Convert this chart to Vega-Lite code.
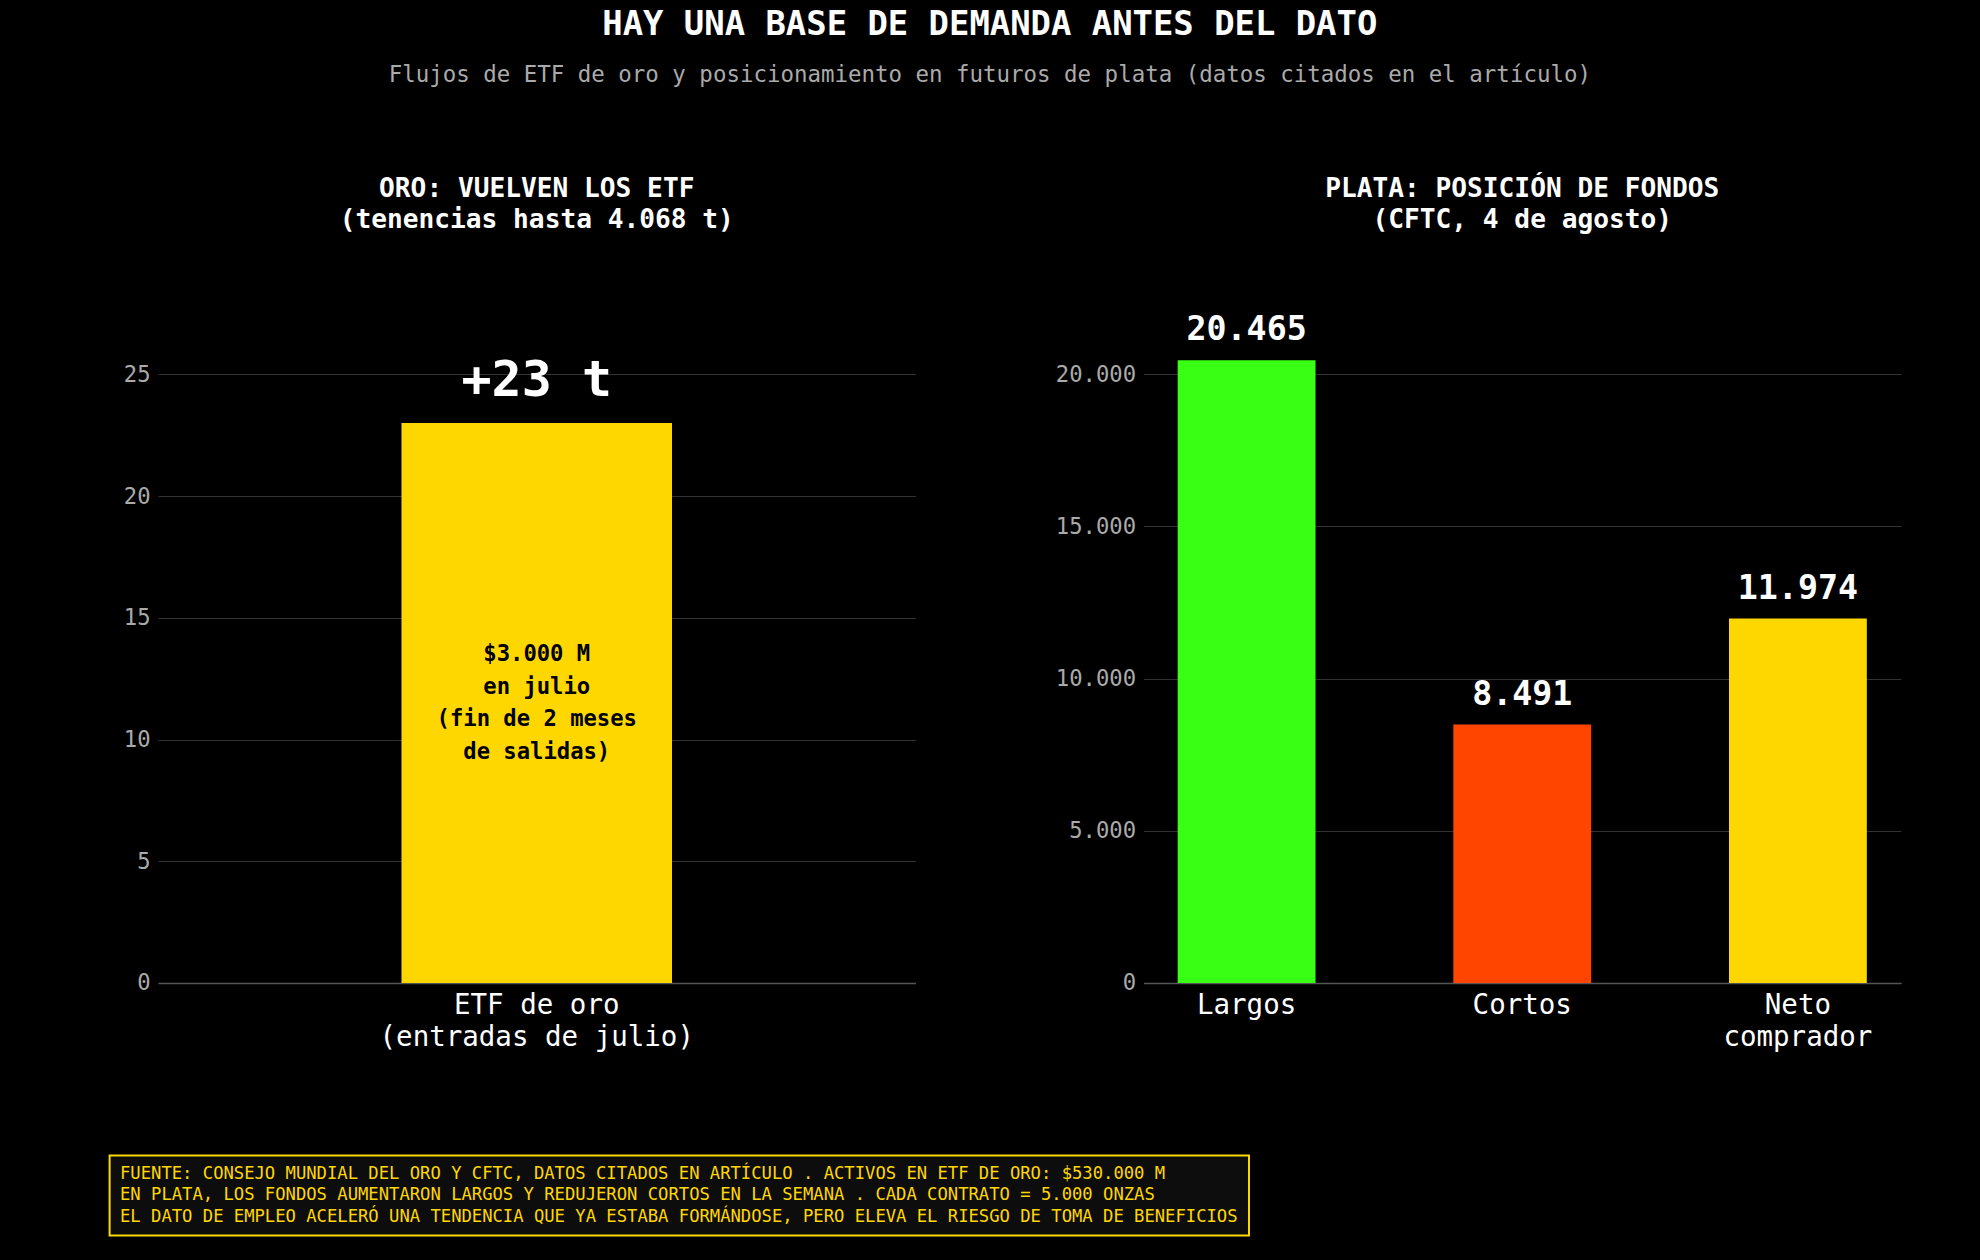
{
  "$schema": "https://vega.github.io/schema/vega-lite/v6.json",
  "background": "#000000",
  "padding": {"left": 108.6, "right": 79.5, "top": 7, "bottom": 25},
  "title": {
    "text": "HAY UNA BASE DE DEMANDA ANTES DEL DATO",
    "subtitle": "Flujos de ETF de oro y posicionamiento en futuros de plata (datos citados en el artículo)",
    "anchor": "middle",
    "dx": -15,
    "offset": 90,
    "font": "DejaVu Sans Mono",
    "fontSize": 33.9,
    "fontWeight": "bold",
    "color": "#ffffff",
    "lineHeight": 34,
    "subtitleFont": "DejaVu Sans Mono",
    "subtitleFontSize": 22.45,
    "subtitleFontWeight": "normal",
    "subtitleColor": "#aaaaaa",
    "subtitlePadding": 22
  },
  "config": {
    "view": {"stroke": null},
    "font": "DejaVu Sans Mono",
    "locale": {"number": {"decimal": ",", "thousands": ".", "grouping": [3], "currency": ["$", ""]}},
    "axisX": {
      "labelColor": "#ffffff",
      "labelFont": "DejaVu Sans Mono",
      "labelFontSize": 27.5,
      "labelAngle": 0,
      "labelLimit": 1000,
      "ticks": false,
      "grid": false,
      "domainColor": "#555555",
      "domainWidth": 1.5,
      "labelPadding": 9,
      "labelLineHeight": 32
    },
    "axisY": {
      "labelColor": "#aaaaaa",
      "labelFont": "DejaVu Sans Mono",
      "labelFontSize": 22.2,
      "ticks": false,
      "domain": false,
      "grid": true,
      "gridColor": "#333333",
      "gridWidth": 1,
      "labelPadding": 8
    },
    "title": {
      "font": "DejaVu Sans Mono",
      "fontSize": 26.2,
      "fontWeight": "bold",
      "color": "#ffffff",
      "lineHeight": 30.5,
      "offset": 50,
      "anchor": "middle"
    }
  },
  "spacing": 872.5,
  "bounds": "flush",
  "vconcat": [
    {
      "bounds": "flush",
      "spacing": 47.4,
      "hconcat": [
        {
          "width": 1,
          "height": 700,
          "data": {"values": []},
          "mark": {"type": "point", "opacity": 0},
          "encoding": {}
        },
        {
          "bounds": "flush",
          "spacing": 227.5,
          "hconcat": [
            {
              "width": 757.5,
              "height": 700,
              "title": {"text": ["ORO: VUELVEN LOS ETF", "(tenencias hasta 4.068 t)"]},
              "data": {"values": [
                {"categoria": "ETF de oro\n(entradas de julio)", "toneladas": 23, "etiqueta": "+23 t", "nota": "$3.000 M\nen julio\n(fin de 2 meses\nde salidas)"}
              ]},
              "encoding": {
                "x": {
                  "field": "categoria",
                  "type": "nominal",
                  "scale": {"paddingInner": 0, "paddingOuter": 0.9},
                  "axis": {"title": null, "labelExpr": "split(datum.label, '\\n')"}
                }
              },
              "layer": [
                {
                  "mark": {"type": "bar", "color": "#FFD700"},
                  "encoding": {
                    "y": {
                      "field": "toneladas",
                      "type": "quantitative",
                      "scale": {"domain": [0, 28.75], "nice": false},
                      "axis": {"title": null, "values": [0, 5, 10, 15, 20, 25]}
                    }
                  }
                },
                {
                  "mark": {"type": "text", "dy": -42, "fontSize": 50, "fontWeight": "bold", "color": "#ffffff", "baseline": "middle", "font": "DejaVu Sans Mono"},
                  "encoding": {
                    "y": {"field": "toneladas", "type": "quantitative"},
                    "text": {"field": "etiqueta"}
                  }
                },
                {
                  "mark": {"type": "text", "lineBreak": "\n", "lineHeight": 32.4, "dy": -48.6, "fontSize": 22.2, "fontWeight": "bold", "color": "#000000", "baseline": "middle", "font": "DejaVu Sans Mono"},
                  "encoding": {
                    "y": {"datum": 11.5, "type": "quantitative"},
                    "text": {"field": "nota"}
                  }
                }
              ]
            },
            {
              "width": 757.5,
              "height": 700,
              "title": {"text": ["PLATA: POSICIÓN DE FONDOS", "(CFTC, 4 de agosto)"]},
              "data": {"values": [
                {"posicion": "Largos", "contratos": 20465},
                {"posicion": "Cortos", "contratos": 8491},
                {"posicion": "Neto\ncomprador", "contratos": 11974}
              ]},
              "encoding": {
                "x": {
                  "field": "posicion",
                  "type": "nominal",
                  "sort": null,
                  "scale": {"paddingInner": 0.5, "paddingOuter": 0.124},
                  "axis": {"title": null, "labelExpr": "split(datum.label, '\\n')"}
                },
                "y": {
                  "field": "contratos",
                  "type": "quantitative",
                  "scale": {"domain": [0, 23000], "nice": false},
                  "axis": {"title": null, "values": [0, 5000, 10000, 15000, 20000], "format": ",d"}
                }
              },
              "layer": [
                {
                  "mark": {"type": "bar"},
                  "encoding": {
                    "color": {
                      "field": "posicion",
                      "type": "nominal",
                      "sort": null,
                      "scale": {"domain": ["Largos", "Cortos", "Neto\ncomprador"], "range": ["#39FF14", "#FF4500", "#FFD700"]},
                      "legend": null
                    }
                  }
                },
                {
                  "mark": {"type": "text", "dy": -30, "fontSize": 33.3, "fontWeight": "bold", "color": "#ffffff", "baseline": "middle", "font": "DejaVu Sans Mono"},
                  "encoding": {
                    "text": {"field": "contratos", "type": "quantitative", "format": ",d"}
                  }
                }
              ]
            }
          ]
        }
      ]
    },
    {
      "width": 1139.4,
      "height": 80,
      "view": {"fill": "#0d0d0d", "stroke": "#FFD700", "strokeWidth": 2},
      "data": {"values": [
        {"linea": 1, "texto": "FUENTE: CONSEJO MUNDIAL DEL ORO Y CFTC, DATOS CITADOS EN ARTÍCULO . ACTIVOS EN ETF DE ORO: $530.000 M"},
        {"linea": 2, "texto": "EN PLATA, LOS FONDOS AUMENTARON LARGOS Y REDUJERON CORTOS EN LA SEMANA . CADA CONTRATO = 5.000 ONZAS"},
        {"linea": 3, "texto": "EL DATO DE EMPLEO ACELERÓ UNA TENDENCIA QUE YA ESTABA FORMÁNDOSE, PERO ELEVA EL RIESGO DE TOMA DE BENEFICIOS"}
      ]},
      "mark": {"type": "text", "align": "left", "baseline": "middle", "dx": 10.4, "fontSize": 17.2, "color": "#FFD700", "font": "DejaVu Sans Mono"},
      "encoding": {
        "y": {"field": "linea", "type": "ordinal", "scale": {"type": "point", "padding": 0.86}, "axis": null},
        "x": {"datum": 0, "type": "quantitative", "scale": {"domain": [0, 1]}, "axis": null},
        "text": {"field": "texto"}
      }
    }
  ]
}
